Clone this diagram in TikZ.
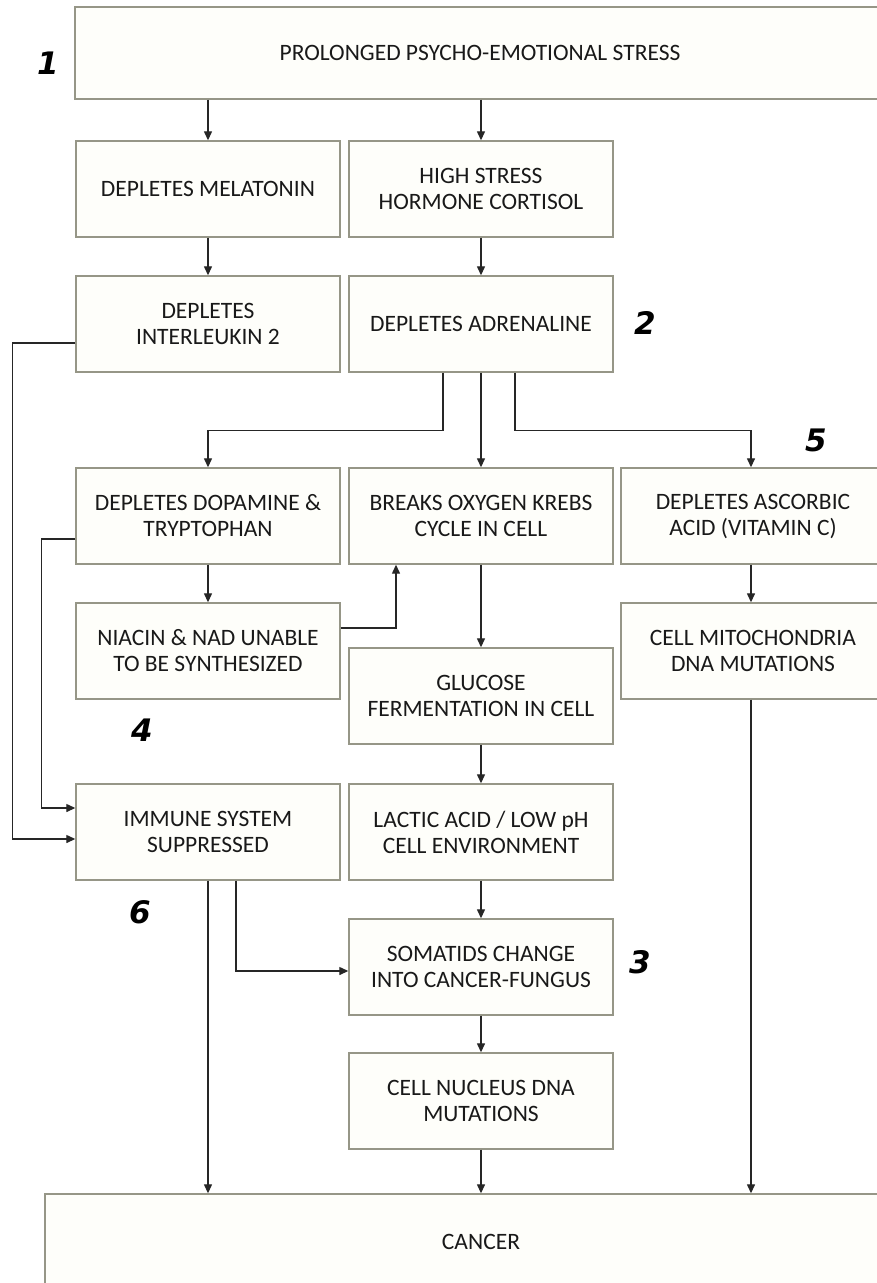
\documentclass[tikz,border=0pt]{standalone}
\usepackage{fontspec}
\setmainfont{Carlito}
\newfontfamily\numfont{DejaVu Sans}
\usetikzlibrary{arrows.meta}
\definecolor{boxgray}{RGB}{150,150,135}
\definecolor{boxfill}{RGB}{254,254,250}
\begin{document}
\begin{tikzpicture}[x=1pt,y=1pt,
  box/.style={draw=boxgray, fill=boxfill, line width=1.4pt, minimum width=264pt, minimum height=96pt, inner sep=0pt, align=center, font=\fontsize{23.5}{26}\selectfont, text=black!90},
  arr/.style={line width=1.3pt, draw=black!85, -{Triangle[length=9pt,width=8pt]}},
  num/.style={font=\numfont\bfseries\itshape\fontsize{31}{33}\selectfont, text=black}]
\useasboundingbox (0,0) rectangle (877,-1283);
\clip (0,0) rectangle (877,-1283);
\fill[white] (0,0) rectangle (877,-1283);

\node[box, minimum width=810pt, minimum height=92pt] (top) at (480,-53) {PROLONGED PSYCHO-EMOTIONAL STRESS};
\node[box] (mel) at (208,-189) {DEPLETES MELATONIN};
\node[box] (cort) at (481,-189) {HIGH STRESS\\HORMONE CORTISOL};
\node[box] (il2) at (208,-324) {DEPLETES\\INTERLEUKIN 2};
\node[box] (adr) at (481,-324) {DEPLETES ADRENALINE};
\node[box] (dop) at (208,-516) {DEPLETES DOPAMINE \&\\TRYPTOPHAN};
\node[box] (krebs) at (481,-516) {BREAKS OXYGEN KREBS\\CYCLE IN CELL};
\node[box] (asc) at (753,-516) {DEPLETES ASCORBIC\\ACID (VITAMIN C)};
\node[box] (nia) at (208,-651) {NIACIN \& NAD UNABLE\\TO BE SYNTHESIZED};
\node[box] (mito) at (753,-651) {CELL MITOCHONDRIA\\DNA MUTATIONS};
\node[box] (glu) at (481,-696) {GLUCOSE\\FERMENTATION IN CELL};
\node[box] (imm) at (208,-832) {IMMUNE SYSTEM\\SUPPRESSED};
\node[box] (lac) at (481,-832) {LACTIC ACID / LOW pH\\CELL ENVIRONMENT};
\node[box] (som) at (481,-967) {SOMATIDS CHANGE\\INTO CANCER-FUNGUS};
\node[box] (nuc) at (481,-1101) {CELL NUCLEUS DNA\\MUTATIONS};
\node[box, minimum width=872pt] (can) at (481,-1242) {CANCER};

\node[num] (n1) at (48,-63) {1};
\node[num] (n2) at (645,-323) {2};
\node[num] (n5) at (816,-440) {5};
\node[num] (n4) at (142,-730) {4};
\node[num] (n6) at (140,-912) {6};
\node[num] (n3) at (640,-962) {3};

\draw[arr] (top.south -| mel.north) -- (mel.north);
\draw[arr] (top.south -| cort.north) -- (cort.north);
\draw[arr] (mel) -- (il2);
\draw[arr] (cort) -- (adr);
\draw[arr] ([xshift=-38pt]adr.south) -- ++(0,-58) -| (dop.north);
\draw[arr] (adr) -- (krebs);
\draw[arr] ([xshift=34pt]adr.south) -- ++(0,-58) -| ([xshift=-2pt]asc.north);
\draw[arr] (dop) -- (nia);
\draw[arr] ([yshift=23pt]nia.east) -| ([xshift=-85pt]krebs.south);
\draw[arr] (krebs) -- (glu);
\draw[arr] ([xshift=-2pt]asc.south) -- ([xshift=-2pt]mito.north);
\draw[arr] ([xshift=-2pt]mito.south) -- ([xshift=-2pt]mito.south |- can.north);
\draw[arr] (glu) -- (lac);
\draw[arr] (lac) -- (som);
\draw[arr] (som) -- (nuc);
\draw[arr] (nuc) -- (can);
\draw[arr] ([yshift=-19pt]il2.west) -- ++(-63,0) |- ([yshift=-7pt]imm.west);
\draw[arr] ([yshift=-23pt]dop.west) -- ++(-34,0) |- ([yshift=24pt]imm.west);
\draw[arr] (imm.south) -- (imm.south |- can.north);
\draw[arr] ([xshift=28pt]imm.south) |- ([yshift=-4pt]som.west);
\end{tikzpicture}
\end{document}
